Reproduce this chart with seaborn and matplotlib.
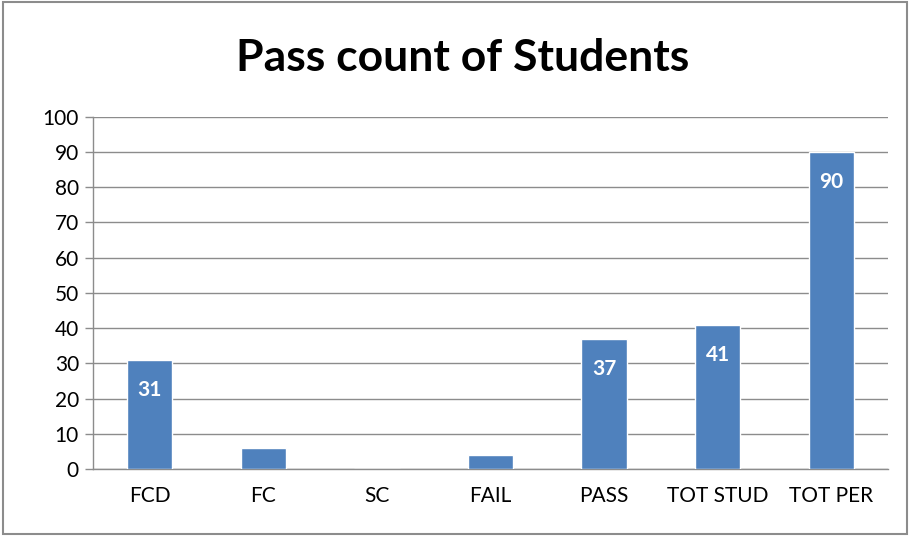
import matplotlib
matplotlib.use('Agg')
import matplotlib.pyplot as plt
import seaborn as sns
import numpy as np
import pandas as pd

# datos
categorias = ['FCD', 'FC', 'SC', 'FAIL', 'PASS', 'TOT STUD', 'TOT PER']
valores = [31, 6, 0, 4, 37, 41, 90]

df = pd.DataFrame({'cat': categorias, 'val': valores})

sns.set_style('white')
plt.rcParams['font.family'] = ['Lato', 'DejaVu Sans']
plt.rcParams['text.color'] = '#000000'

fig = plt.figure(figsize=(9.1, 5.36), dpi=100)
ax = fig.add_axes([0.102, 0.125, 0.874, 0.657])

sns.barplot(data=df, x='cat', y='val', color='#4F81BD', width=0.4, saturation=1, ax=ax, zorder=3)

ax.set_ylim(0, 100)
ax.set_xlim(-0.5, len(categorias) - 0.5)
ax.set_yticks(np.arange(0, 101, 10))
ax.yaxis.grid(True, color='#8c8c8c', linewidth=1, zorder=0)
ax.set_xlabel('')
ax.set_ylabel('')

# marcas entre categorias
ax.set_xticks(np.arange(-0.5, len(categorias), 1), minor=True)
ax.tick_params(axis='x', which='minor', length=9, color='#8c8c8c', width=1)
ax.tick_params(axis='x', which='major', length=0, labelsize=15, pad=12, labelcolor='black')
ax.tick_params(axis='y', which='major', length=6, color='#8c8c8c', width=1, labelsize=15, pad=4,
               left=True, labelcolor='black')

for s in ['top', 'right']:
    ax.spines[s].set_visible(False)
for s in ['left', 'bottom']:
    ax.spines[s].set_color('#8c8c8c')
    ax.spines[s].set_linewidth(1)

# etiquetas dentro de las barras (solo las visibles)
for i, v in enumerate(valores):
    if v >= 10:
        ax.text(i, v - 8.5, str(v), ha='center', va='center', color='white',
                fontsize=15, fontweight='bold', zorder=4)

fig.suptitle('Pass count of Students', fontsize=32, fontweight='bold', y=0.93, x=0.508, color='black')

# borde del grafico
fig.patches.append(plt.Rectangle((0.003, 0.003), 0.994, 0.994, transform=fig.transFigure,
                                 fill=False, edgecolor='#8c8c8c', linewidth=1.5))

plt.savefig('out.png', dpi=100)
